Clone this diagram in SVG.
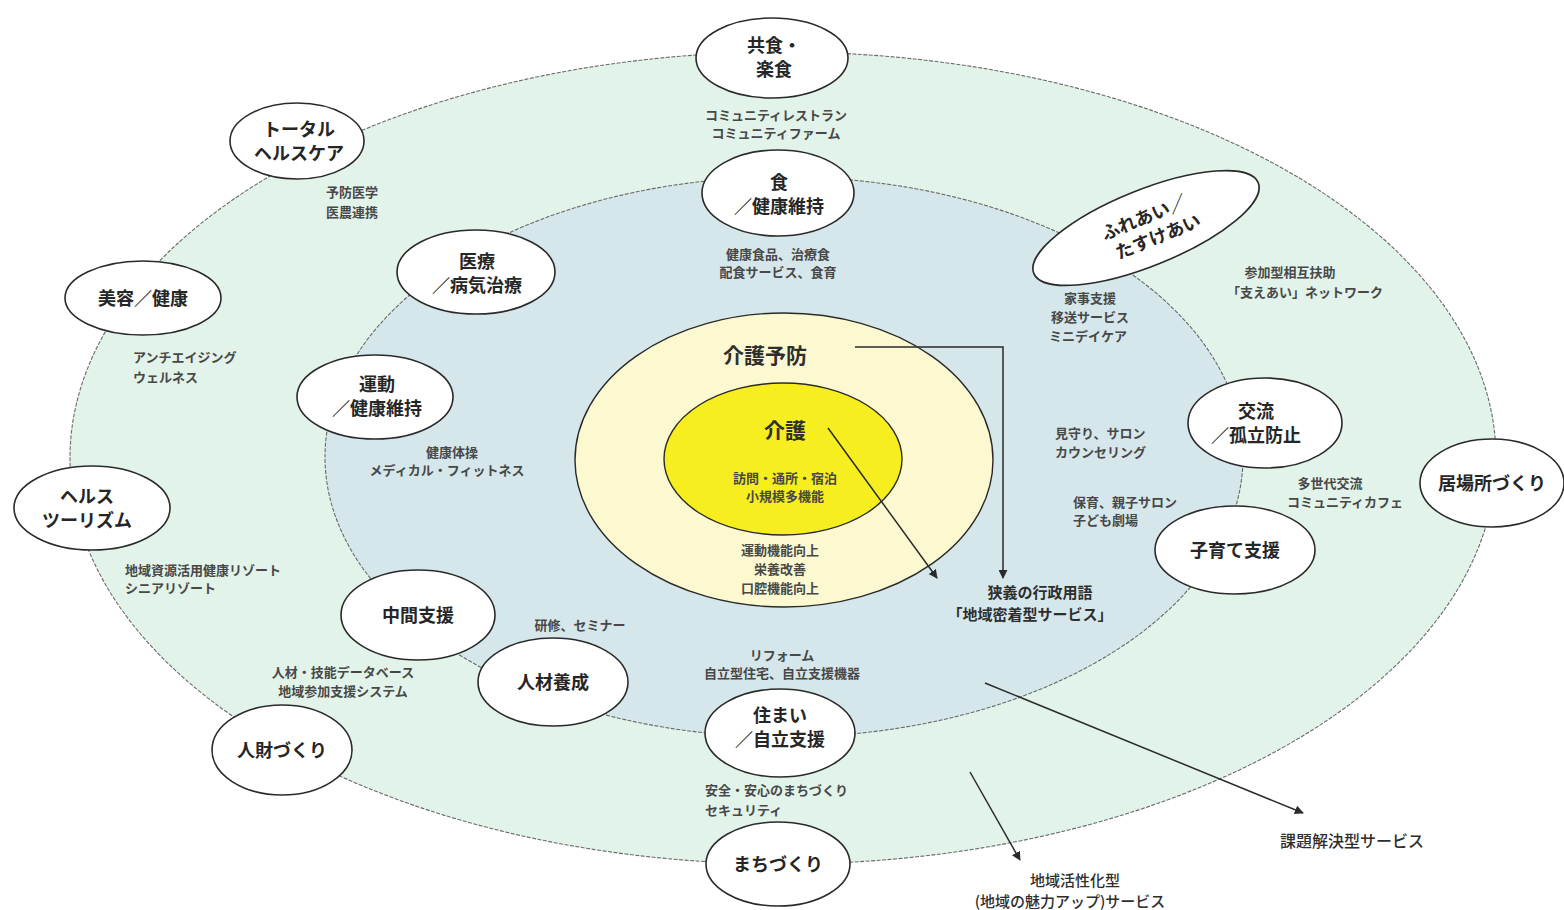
<svg xmlns="http://www.w3.org/2000/svg" width="1564" height="910" viewBox="0 0 1564 910">
<style>
text{font-family:"Noto Sans CJK JP","Noto Sans",sans-serif;fill:#2e2e2e;text-anchor:middle}
.n{font-size:18px;font-weight:700;fill:#262626}
.s{font-size:13px;font-weight:700;fill:#484848}
.l{text-anchor:start}
.node{fill:#fff;stroke:#2a2a2a;stroke-width:1.6}
.ring{stroke:#6a6a6a;stroke-width:1.1;stroke-dasharray:4 1.5}
.arr{fill:none;stroke:#2a2a2a;stroke-width:1.5}
</style>
<defs>
<marker id="ah" viewBox="0 0 10 10" refX="9" refY="5" markerWidth="9" markerHeight="9" orient="auto" markerUnits="userSpaceOnUse"><path d="M0,0 L10,5 L0,10 z" fill="#2a2a2a"/></marker>
</defs>
<rect width="1564" height="910" fill="#fff"/>
<g id="rings">
<ellipse class="ring" cx="783" cy="458" rx="713" ry="406" fill="#e2f3ea"/>
<ellipse class="ring" cx="784" cy="457" rx="459" ry="280" fill="#d5e7ea"/>
<ellipse cx="784" cy="460" rx="209" ry="147" fill="#fcf9d0" stroke="#2a2a2a" stroke-width="1.4"/>
<ellipse cx="783" cy="459" rx="119" ry="76" fill="#f6ee1e" stroke="#2a2a2a" stroke-width="1.4"/>
</g>
<g id="center-text">
<text x="765" y="363" style="font-size:21px;font-weight:700">介護予防</text>
<text x="785" y="438" style="font-size:21px;font-weight:700">介護</text>
<text class="s" x="785" y="483">訪問・通所・宿泊</text>
<text class="s" x="785" y="501">小規模多機能</text>
<text class="s" x="780" y="555">運動機能向上</text>
<text class="s" x="780" y="574">栄養改善</text>
<text class="s" x="780" y="593">口腔機能向上</text>
</g>
<g id="connectors">
<path class="arr" d="M855,347 H1003 V578" marker-end="url(#ah)"/>
<path class="arr" d="M828,428 L937,578" marker-end="url(#ah)"/>
<path class="arr" d="M985,683 L1303,813" marker-end="url(#ah)"/>
<path class="arr" d="M970,772 L1020,860" marker-end="url(#ah)"/>
</g>
<g id="labels">
<text class="s" x="776" y="120">コミュニティレストラン</text>
<text class="s" x="776" y="138">コミュニティファーム</text>
<text class="s" x="778" y="259">健康食品、治療食</text>
<text class="s" x="778" y="277">配食サービス、食育</text>
<text class="s" x="352" y="197">予防医学</text>
<text class="s" x="352" y="217">医農連携</text>
<text class="s l" x="133" y="362">アンチエイジング</text>
<text class="s l" x="133" y="382">ウェルネス</text>
<text class="s" x="452" y="457">健康体操</text>
<text class="s" x="447" y="475">メディカル・フィットネス</text>
<text class="s l" x="125" y="575">地域資源活用健康リゾート</text>
<text class="s l" x="125" y="593">シニアリゾート</text>
<text class="s" x="580" y="630">研修、セミナー</text>
<text class="s" x="343" y="677">人材・技能データベース</text>
<text class="s" x="343" y="696">地域参加支援システム</text>
<text class="s" x="782" y="660">リフォーム</text>
<text class="s" x="782" y="678">自立型住宅、自立支援機器</text>
<text class="s l" x="705" y="795">安全・安心のまちづくり</text>
<text class="s l" x="705" y="815">セキュリティ</text>
<text class="s" x="1290" y="277">参加型相互扶助</text>
<text class="s" x="1305" y="297">「支えあい」ネットワーク</text>
<text class="s" x="1090" y="303">家事支援</text>
<text class="s" x="1090" y="322">移送サービス</text>
<text class="s" x="1088" y="341">ミニデイケア</text>
<text class="s l" x="1055" y="438">見守り、サロン</text>
<text class="s l" x="1055" y="457">カウンセリング</text>
<text class="s" x="1330" y="488">多世代交流</text>
<text class="s" x="1345" y="507">コミュニティカフェ</text>
<text class="s l" x="1073" y="507">保育、親子サロン</text>
<text class="s l" x="1073" y="525">子ども劇場</text>
<text x="1040" y="598" style="font-size:15px;font-weight:700">狭義の行政用語</text>
<text x="1030" y="620" style="font-size:15px;font-weight:700">「地域密着型サービス」</text>
<text x="1352" y="847" style="font-size:16px;font-weight:500">課題解決型サービス</text>
<text x="1075" y="886" style="font-size:15px;font-weight:500">地域活性化型</text>
<text x="1070" y="907" style="font-size:15px;font-weight:500">(地域の魅力アップ)サービス</text>
</g>
<g id="n-kyoshoku"><ellipse class="node" cx="772" cy="58" rx="76" ry="40"/><text class="n" x="774" y="52">共食・</text><text class="n" x="774" y="76">楽食</text></g>
<g id="n-shoku"><ellipse class="node" cx="778" cy="193" rx="76" ry="43"/><text class="n" x="779" y="189">食</text><text class="n" x="779" y="213">／健康維持</text></g>
<g id="n-total"><ellipse class="node" cx="297" cy="141" rx="67" ry="38"/><text class="n" x="299" y="136">トータル</text><text class="n" x="299" y="160">ヘルスケア</text></g>
<g id="n-iryo"><ellipse class="node" cx="476" cy="272" rx="79" ry="42"/><text class="n" x="477" y="268">医療</text><text class="n" x="477" y="292">／病気治療</text></g>
<g id="n-biyo"><ellipse class="node" cx="143" cy="298" rx="78" ry="37"/><text class="n" x="143" y="305">美容／健康</text></g>
<g id="n-undo"><ellipse class="node" cx="375" cy="397" rx="78" ry="42"/><text class="n" x="377" y="391">運動</text><text class="n" x="377" y="415">／健康維持</text></g>
<g id="n-health"><ellipse class="node" cx="92" cy="508" rx="78" ry="42"/><text class="n" x="87" y="503">ヘルス</text><text class="n" x="87" y="527">ツーリズム</text></g>
<g id="n-chukan"><ellipse class="node" cx="418" cy="615" rx="77" ry="45"/><text class="n" x="418" y="622">中間支援</text></g>
<g id="n-jinzai"><ellipse class="node" cx="553" cy="682" rx="75" ry="44"/><text class="n" x="553" y="689">人材養成</text></g>
<g id="n-jinzai2"><ellipse class="node" cx="282" cy="750" rx="70" ry="45"/><text class="n" x="282" y="757">人財づくり</text></g>
<g id="n-sumai"><ellipse class="node" cx="780" cy="733" rx="75" ry="44"/><text class="n" x="780" y="722">住まい</text><text class="n" x="780" y="746">／自立支援</text></g>
<g id="n-machi"><ellipse class="node" cx="778" cy="864" rx="72" ry="42"/><text class="n" x="778" y="871">まちづくり</text></g>
<g id="n-fureai"><g transform="translate(1146,228) rotate(-22)"><ellipse class="node" cx="0" cy="0" rx="121" ry="38"/><text class="n" x="2" y="-4">ふれあい／</text><text class="n" x="8" y="19">たすけあい</text></g></g>
<g id="n-koryu"><ellipse class="node" cx="1265" cy="423" rx="77" ry="45"/><text class="n" x="1256" y="418">交流</text><text class="n" x="1256" y="442">／孤立防止</text></g>
<g id="n-ibasho"><ellipse class="node" cx="1492" cy="483" rx="72" ry="44"/><text class="n" x="1492" y="490">居場所づくり</text></g>
<g id="n-kosodate"><ellipse class="node" cx="1235" cy="550" rx="80" ry="44"/><text class="n" x="1235" y="557">子育て支援</text></g>
</svg>
